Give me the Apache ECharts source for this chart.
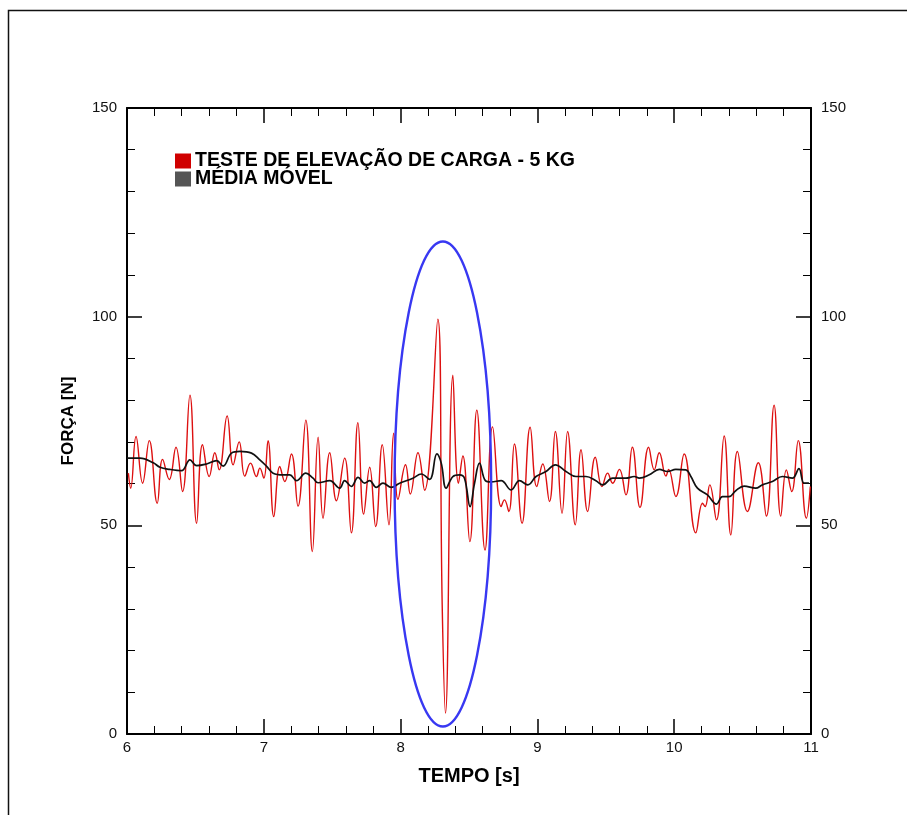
<!DOCTYPE html>
<html><head><meta charset="utf-8">
<script src="https://cdn.jsdelivr.net/npm/echarts@6/dist/echarts.min.js"></script>
<style>html,body{margin:0;padding:0;background:#fff}#c{width:907px;height:815px}</style>
</head><body><div id="c"></div>
<script>
// ---- data ----
var xTicks = [6, 7, 8, 9, 10, 11];
var yTicks = [0, 50, 100, 150];
var seriesNames = ['TESTE DE ELEVAÇÃO DE CARGA - 5 KG', 'MÉDIA MÓVEL'];

var redT = [6.010,6.027,6.066,6.114,6.163,6.221,6.260,6.309,6.358,6.406,6.460,6.509,6.552,6.601,6.642,6.674,6.732,6.776,6.820,6.861,6.903,6.946,6.971,7.000,7.031,7.073,7.117,7.153,7.202,7.250,7.307,7.355,7.397,7.433,7.482,7.531,7.591,7.640,7.688,7.730,7.774,7.818,7.866,7.915,7.949,7.981,8.036,8.071,8.127,8.175,8.272,8.304,8.328,8.382,8.423,8.455,8.506,8.557,8.617,8.672,8.735,8.759,8.791,8.832,8.888,8.947,8.995,9.039,9.088,9.131,9.180,9.221,9.277,9.319,9.367,9.423,9.472,9.513,9.550,9.599,9.647,9.694,9.750,9.813,9.854,9.891,9.940,9.959,10.012,10.073,10.158,10.207,10.226,10.260,10.309,10.365,10.414,10.462,10.535,10.615,10.674,10.730,10.779,10.820,10.859,10.907,10.966,10.995];
var redF = [62.5,58.9,71.3,60.1,70.3,55.3,65.8,61.0,68.7,58.1,81.2,50.5,69.3,61.7,67.4,63.3,76.2,64.5,70.0,61.8,64.9,61.7,63.7,61.3,70.3,52.1,64.1,60.5,67.1,54.6,75.2,43.7,71.1,51.7,67.4,55.9,66.1,48.2,74.6,52.7,63.9,49.7,69.3,50.1,72.1,56.2,64.5,57.5,67.4,58.4,99.4,31.0,5.0,86.0,60.1,66.6,46.1,77.6,44.1,73.6,54.5,56.1,53.3,69.5,50.5,73.5,59.3,64.7,55.7,72.5,52.9,72.5,50.1,68.1,53.3,66.3,59.3,62.5,60.1,63.4,57.3,68.7,54.3,68.7,63.3,67.4,61.8,63.4,56.9,67.1,48.2,55.3,54.5,59.7,51.3,71.4,47.7,67.7,53.3,65.0,52.2,78.8,52.2,63.3,58.1,70.3,51.7,59.3];

var avgT = [6.000,6.095,6.192,6.241,6.314,6.399,6.460,6.509,6.582,6.655,6.703,6.764,6.825,6.910,6.971,7.019,7.068,7.141,7.190,7.239,7.307,7.360,7.397,7.482,7.555,7.591,7.640,7.689,7.737,7.774,7.822,7.871,7.932,7.993,8.090,8.151,8.212,8.265,8.297,8.333,8.382,8.431,8.467,8.508,8.540,8.577,8.620,8.662,8.735,8.808,8.869,8.930,8.990,9.063,9.131,9.209,9.282,9.355,9.428,9.477,9.550,9.647,9.708,9.745,9.818,9.891,9.951,10.012,10.085,10.122,10.170,10.243,10.309,10.353,10.401,10.450,10.511,10.596,10.645,10.718,10.791,10.864,10.912,10.949,10.985];
var avgF = [66.1,66.1,65.0,63.9,63.4,63.1,65.7,64.3,64.7,65.5,64.2,67.3,67.7,67.3,65.7,64.2,62.5,62.1,62.1,60.7,62.5,61.3,60.2,60.7,58.9,60.7,59.3,61.5,60.1,60.7,59.1,60.1,59.1,60.1,61.3,62.3,61.0,67.1,64.9,58.9,61.7,62.1,61.3,54.5,60.0,64.9,60.7,60.4,60.7,58.5,60.7,59.7,61.7,62.9,64.5,62.9,61.7,61.7,60.7,59.7,61.3,61.3,61.7,61.3,62.1,63.4,62.9,63.4,63.3,61.7,58.9,57.3,55.1,56.9,56.9,58.3,59.4,58.9,59.7,60.5,61.7,61.3,63.6,60.1,60.1];

// highlight ellipse: centre (time, force) and half-axes (time, force)
var ellipseCenter = [8.309, 59.9];
var ellipseHalf = [0.353, 58.1];

// ---- build ----
function pairs(t, v){ var o=[]; for (var i=0;i<t.length;i++) o.push([t[i], v[i]]); return o; }
var FONT = "'Liberation Sans', Arial, Helvetica, sans-serif";
var chart = echarts.init(document.getElementById('c'), null, {renderer:'canvas'});

function xAx(pos, show){
  return {type:'value', position:pos, min:xTicks[0], max:xTicks[xTicks.length-1], interval:1,
    axisLine:{show:true, onZero:false, lineStyle:{color:'#000', width:2}},
    axisTick:{show:true, inside:true, length:15, lineStyle:{color:'#000', width:1.5}},
    minorTick:{show:true, splitNumber:5, length:8, lineStyle:{color:'#000', width:1}},
    splitLine:{show:false},
    axisLabel:{show:show, color:'#111', fontSize:15, fontFamily:FONT, margin:6},
    name: show ? 'TEMPO [s]' : '', nameLocation:'middle', nameGap:32,
    nameTextStyle:{color:'#000', fontSize:20, fontWeight:'bold', fontFamily:FONT}
  };
}
function yAx(pos, named){
  return {type:'value', position:pos, min:yTicks[0], max:yTicks[yTicks.length-1], interval:50,
    axisLine:{show:true, onZero:false, lineStyle:{color:'#000', width:2}},
    axisTick:{show:true, inside:true, length:15, lineStyle:{color:'#000', width:1.5}},
    minorTick:{show:true, splitNumber:5, length:8, lineStyle:{color:'#000', width:1}},
    splitLine:{show:false},
    axisLabel:{show:true, color:'#111', fontSize:15, fontFamily:FONT, margin:10},
    name: named ? 'FORÇA [N]' : '', nameLocation:'middle', nameGap:50,
    nameTextStyle:{color:'#000', fontSize:17, fontWeight:'bold', fontFamily:FONT}
  };
}

chart.setOption({
  animation:false,
  backgroundColor:'#fff',
  grid:{left:127, right:96, top:108, bottom:81, containLabel:false},
  graphic:[{type:'rect', shape:{x:8.5, y:10.5, width:1000, height:1000},
            style:{fill:'none', stroke:'#111', lineWidth:1.5}, silent:true, z:-1}],
  legend:{left:170, top:146, orient:'vertical', itemGap:-2, itemWidth:16, itemHeight:15,
    icon:'rect',
    textStyle:{color:'#000', fontSize:19.5, fontWeight:'bold', fontFamily:FONT, padding:[0,0,0,-1]},
    data:[{name:seriesNames[0], itemStyle:{color:'#d00000'}},
          {name:seriesNames[1], itemStyle:{color:'#555555'}}]
  },
  xAxis:[xAx('bottom', true), xAx('top', false)],
  yAxis:[yAx('left', true), yAx('right', false)],
  series:[
    {name:seriesNames[0], type:'line', xAxisIndex:0, yAxisIndex:0, data:pairs(redT, redF),
     showSymbol:false, smooth:0.45, lineStyle:{color:'#dd1010', width:1.4}, itemStyle:{color:'#d00000'}, z:2},
    {name:seriesNames[1], type:'line', xAxisIndex:0, yAxisIndex:0, data:pairs(avgT, avgF),
     showSymbol:false, smooth:0.4, lineStyle:{color:'#111', width:1.7}, itemStyle:{color:'#555555'}, z:3},
    {name:'ellipse', type:'custom', xAxisIndex:0, yAxisIndex:0, clip:false, z:4,
     data:[[ellipseCenter[0], ellipseCenter[1], ellipseHalf[0], ellipseHalf[1]]],
     encode:{x:0, y:1},
     renderItem:function(params, api){
       var c = api.coord([api.value(0), api.value(1)]);
       var e = api.coord([api.value(0)+api.value(2), api.value(1)+api.value(3)]);
       return {type:'ellipse', shape:{cx:c[0], cy:c[1], rx:Math.abs(e[0]-c[0]), ry:Math.abs(e[1]-c[1])},
               style:{fill:null, stroke:'#3838f2', lineWidth:2.4}};
     }}
  ]
});
</script></body></html>
